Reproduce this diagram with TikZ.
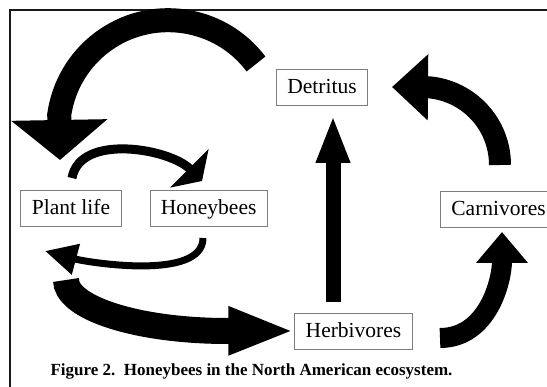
\documentclass[tikz,border=0pt]{standalone}
\usepackage{fontspec}
\setmainfont{Liberation Serif}
\usepackage{xcolor}
\usetikzlibrary{arrows.meta, positioning}
\definecolor{boxline}{RGB}{125,125,125}

\begin{document}
\begin{tikzpicture}[
    x=1pt, y=1pt,
    node distance=28pt,
    box/.style={
        rectangle,
        draw=boxline,
        line width=0.8pt,
        fill=white,
        inner xsep=11pt,
        minimum height=36pt,
        text height=17pt,
        text depth=3pt,
        font=\fontsize{21.5}{24}\selectfont
    },
    caption/.style={font=\bfseries\fontsize{17}{19}\selectfont},
    frame/.style={line width=1.8pt, draw=black!90},
    flow/.style n args={3}{line width=#1, draw=black, -{Triangle[length=#2, width=#3]}}
]

\useasboundingbox (0,0) rectangle (547,387);

\draw[frame] (10,0) -- (10,377) -- (548,377);

\node[box] (plant) at (71,179) {Plant life};
\node[box, right=of plant] (bees) {Honeybees};
\node[box] (detritus) at (322,300) {Detritus};
\node[box] (herbivores) at (353.5,56) {Herbivores};
\node[box, anchor=west] (carnivores) at (440,178) {Carnivores};

\node[caption, anchor=base west] (caption) at (47,11) {Figure 2.\ \ Honeybees in the North American ecosystem.};

% free ends of the block arrows
\coordinate (recyclestart) at (256,323);
\coordinate (recycleend) at (60,227);
\coordinate (pollenstart) at (72,209);
\coordinate (pollenend) at (202,206);
\coordinate (nectarstart) at (203,149);
\coordinate (nectarend) at (45,136);
\coordinate (eatstart) at (66,107);
\coordinate (decaystart) at (333,85);
\coordinate (decayend) at (333,272);
\coordinate (preystart) at (440,49);
\coordinate (preyend) at (502,155);
\coordinate (deathstart) at (500,222);
\coordinate (deathend) at (392,300);

\draw[flow={24pt}{40pt}{94pt}] (recyclestart) arc[start angle=37, end angle=172, radius=110] -- (recycleend);
\draw[flow={9pt}{18pt}{54pt}] (pollenstart) to[out=80, in=135, looseness=0.9] (pollenend);
\draw[flow={7pt}{32pt}{30pt}] (nectarstart) to[out=-90, in=-15, looseness=0.7] (nectarend);
\draw[flow={26pt}{66pt}{44pt}] (eatstart) arc[start angle=180, end angle=265, x radius=161, y radius=51] -- (herbivores.west);
\draw[flow={15pt}{48pt}{31pt}] (decaystart) -- (decayend);
\draw[flow={20pt}{31pt}{50pt}] (preystart) to[out=0, in=-90] (preyend);
\draw[flow={22pt}{36pt}{64pt}] (deathstart) arc[start angle=0, end angle=85, radius=78] -- (deathend);

\end{tikzpicture}
\end{document}
